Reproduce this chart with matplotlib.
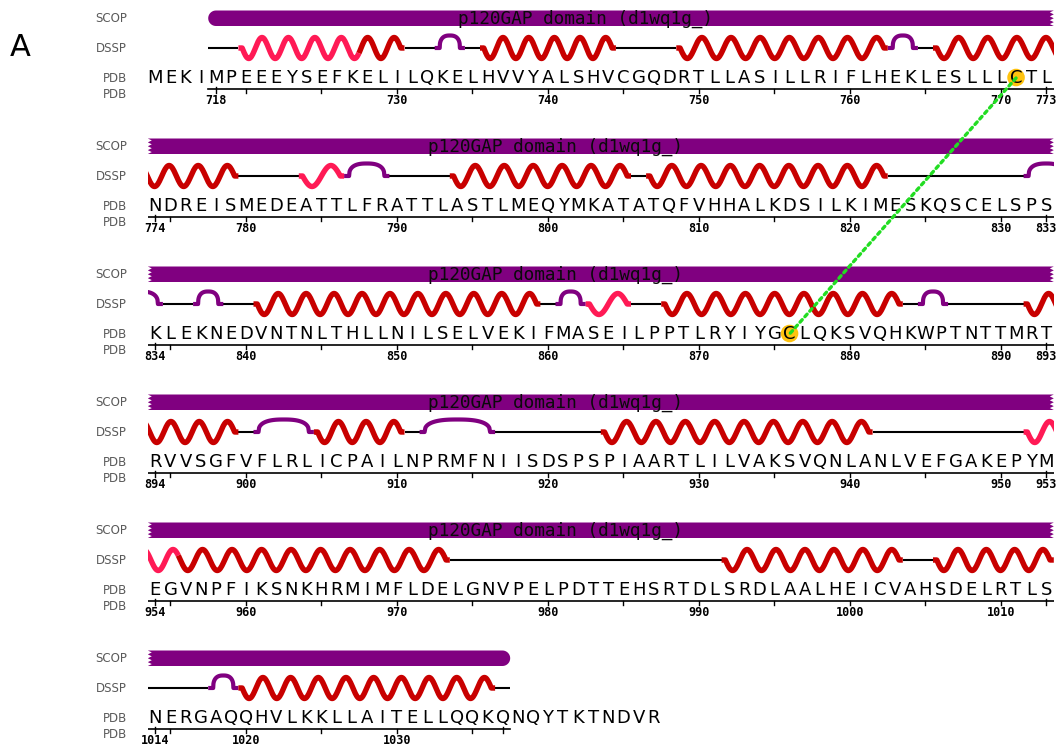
import numpy as np
import matplotlib
matplotlib.use("Agg")
import matplotlib.pyplot as plt
from matplotlib.patches import Polygon, ConnectionPatch
from matplotlib.transforms import blended_transform_factory
from itertools import groupby

# sequence laid out 60 residues per line
row_starts = [714, 774, 834, 894, 954, 1014]
sequence_rows = [
    "MEKIMPEEEYSEFKELILQKELHVVYALSHVCGQDRTLLASILLRIFLHEKLESLLLCTL",
    "NDREISMEDEATTLFRATTLASTLMEQYMKATATQFVHHALKDSILKIMESKQSCELSPS",
    "KLEKNEDVNTNLTHLLNILSELVEKIFMASEILPPTLRYIYGCLQKSVQHKWPTNTTMRT",
    "RVVSGFVFLRLICPAILNPRMFNIISDSPSPIAARTLILVAKSVQNLANLVEFGAKEPYM",
    "EGVNPFIKSNKHRMIMFLDELGNVPELPDTTEHSRTDLSRDLAALHEICVAHSDELRTLS",
    "NERGAQQHVLKKLLAITELLQQKQNQYTKTNDVR",
]
# DSSP per residue: H alpha helix, G 3-10 helix, T turn, - coil, . not in structure
dssp_rows = [
    "....--GGGGGGGGHHH--TT-HHHHHHHHH----HHHHHHHHHHHHHHTT-HHHHHHHH",
    "HHHHHH----GGGTTT----HHHHHHHHHHHH-HHHHHHHHHHHHHHHH---------TT",
    "T--TT--HHHHHHHHHHHHHHHHHHH-TTGGG--HHHHHHHHHHHHHHHH-TT-----HH",
    "HHHHHH-TTTTHHHHHH-TTTTT-------HHHHHHHHHHHHHHHHHH----------GG",
    "GGHHHHHHHHHHHHHHHHHH------------------HHHHHHHHHHHH--HHHHHHHH",
    "----TTHHHHHHHHHHHHHHHHH-..........",
]
tick_label_rows = [
    [718, 730, 740, 750, 760, 770, 773],
    [774, 780, 790, 800, 810, 820, 830, 833],
    [834, 840, 850, 860, 870, 880, 890, 893],
    [894, 900, 910, 920, 930, 940, 950, 953],
    [954, 960, 970, 980, 990, 1000, 1010],
    [1014, 1020, 1030],
]
domain_start, domain_end = 718, 1037
domain_name = "p120GAP domain (d1wq1g_)"
track_names = ["SCOP", "DSSP", "PDB", "PDB"]
linked_cys = (771, 876)
panel_label = "A"

W, H = 1063, 746
ROW_H = 128
X0, PER_ROW = 147.8, 60
PX = 15.1  # pixels per residue

# vertical positions inside a row (pixels from row top)
BAR_TOP, BAR_BOT = 10.5, 26.0
COIL_Y, AMP = 48.0, 10.5
SEQ_Y, AXIS_Y, NUM_Y = 78, 88.5, 100
TRACK_Y = [18, 48, 78, 94]
HELIX_PERIOD = 1.88  # residues per drawn wave

colors = {"H": "#c80000", "G": "#ff1a55", "T": "#800080", "-": "black"}
purple = "#800080"

seq, dssp = {}, {}
for start, s, d in zip(row_starts, sequence_rows, dssp_rows):
    for i, (aa, ss) in enumerate(zip(s, d)):
        seq[start + i] = aa
        dssp[start + i] = ss


def category(c):
    return {"H": "helix", "G": "helix", "T": "turn", "-": "coil"}.get(c)


runs = []
for cat, grp in groupby(sorted(dssp), key=lambda r: category(dssp[r])):
    grp = list(grp)
    if cat:
        runs.append((cat, grp[0], grp[-1]))


def draw_helix(ax, s, e, m=0.25):
    x0, x1 = s - 0.5 + m, e + 0.5 - m
    k = max(1, int(round((x1 - x0) / HELIX_PERIOD)))
    xw = np.linspace(x0, x1, 40 * k)
    yw = COIL_Y + AMP * np.sin(2 * np.pi * k * (xw - x0) / (x1 - x0))
    xs = np.concatenate([[s - 0.5], xw, [e + 0.5]])
    ys = np.concatenate([[COIL_Y], yw, [COIL_Y]])
    mids = (xs[:-1] + xs[1:]) / 2
    codes = [dssp[int(np.clip(np.floor(v + 0.5), s, e))] for v in mids]
    i = 0
    for code, grp in groupby(codes):
        n = len(list(grp))
        ax.plot(xs[i:i + n + 1], ys[i:i + n + 1], color=colors[code], lw=3.9,
                solid_capstyle="butt", solid_joinstyle="round", zorder=4)
        i += n


def draw_turn(ax, s, e, h=12.5, p=2.6):
    a, b = s - 0.5 + 0.33, e + 0.5 - 0.33
    u = np.linspace(-1, 1, 80)
    xa = (a + b) / 2 + u * (b - a) / 2
    ya = COIL_Y - h * (1 - np.abs(u) ** p) ** (1 / p)
    xs = np.concatenate([[s - 0.5], xa, [e + 0.5]])
    ys = np.concatenate([[COIL_Y], ya, [COIL_Y]])
    ax.plot(xs, ys, color=purple, lw=3.0, solid_capstyle="butt", zorder=3)


def bar_outline(lo, hi, round_left, round_right, depth=4.0):
    r = (BAR_BOT - BAR_TOP) / 2
    cy = (BAR_TOP + BAR_BOT) / 2
    pts = []
    if round_right:
        ph = np.linspace(-np.pi / 2, np.pi / 2, 20)
        pts += list(zip(hi - r / PX + r * np.cos(ph) / PX, cy + r * np.sin(ph)))
    else:
        yy = np.linspace(BAR_TOP, BAR_BOT, 9)
        pts += [(hi - (depth if i % 2 else 0) / PX, y) for i, y in enumerate(yy)]
    if round_left:
        ph = np.linspace(np.pi / 2, 3 * np.pi / 2, 20)
        pts += list(zip(lo + r / PX + r * np.cos(ph) / PX, cy + r * np.sin(ph)))
    else:
        yy = np.linspace(BAR_BOT, BAR_TOP, 9)
        pts += [(lo + (depth if i % 2 else 0) / PX, y) for i, y in enumerate(yy)]
    return pts


fig = plt.figure(figsize=(W / 100, H / 100), dpi=100)
fig.text(10 / W, 1 - 48 / H, panel_label, fontsize=22, ha="left", va="center",
         family="DejaVu Sans")

axes = []
for k, start in enumerate(row_starts):
    ax = fig.add_axes([X0 / W, 1 - (ROW_H * (k + 1)) / H, PER_ROW * PX / W, ROW_H / H])
    ax.set_xlim(start - 0.5, start + PER_ROW - 0.5)
    ax.set_ylim(ROW_H, 0)
    ax.axis("off")
    axes.append(ax)
    end = start + PER_ROW - 1

    # track names on the left
    tr = blended_transform_factory(fig.transFigure, ax.transData)
    for name, y in zip(track_names, TRACK_Y):
        ax.text(127 / W, y, name, transform=tr, ha="right", va="center",
                fontsize=8.5, color="#5a5a5a", family="DejaVu Sans")

    # SCOP domain bar
    lo = max(domain_start, start) - 0.5
    hi = min(domain_end, end) + 0.5
    ax.add_patch(Polygon(bar_outline(lo, hi, lo == domain_start - 0.5,
                                     hi == domain_end + 0.5),
                         closed=True, facecolor=purple, edgecolor="none", zorder=2))
    if domain_end >= end:
        ax.text((lo + hi) / 2 - 3, (BAR_TOP + BAR_BOT) / 2 + 0.5, domain_name,
                ha="center", va="center", fontsize=12.8, color="#0a0a0a",
                family="DejaVu Sans Mono", zorder=3)

    # DSSP track
    for cat, s, e in runs:
        if e < start - 3 or s > end + 3:
            continue
        if cat == "coil":
            ax.plot([s - 0.5, e + 0.5], [COIL_Y, COIL_Y], color="black", lw=1.5,
                    solid_capstyle="butt", zorder=2)
        elif cat == "turn":
            draw_turn(ax, s, e)
        else:
            draw_helix(ax, s, e)

    # sequence letters
    for r in range(start, start + len(sequence_rows[k])):
        ax.text(r, SEQ_Y, seq[r], ha="center", va="center", fontsize=13,
                family="DejaVu Sans", color="black", zorder=5)
    for c in linked_cys:
        if start <= c <= end:
            ax.scatter([c], [SEQ_Y - 0.5], s=160, color="#ffc30f", edgecolor="none",
                       zorder=4)

    # residue numbering axis
    a0 = max(domain_start, start)
    a1 = min(domain_end, end)
    ax.plot([a0 - 0.5, a1 + 0.5], [AXIS_Y, AXIS_Y], color="black", lw=1.2, zorder=2)
    ticks = [t for t in range(a0, a1 + 1) if t % 5 == 0]
    for t in ticks:
        ax.plot([t, t], [AXIS_Y, AXIS_Y + 4], color="black", lw=1.0)
    for t in (a0, a1):
        ax.plot([t, t], [AXIS_Y - 2, AXIS_Y + 4], color="black", lw=1.0)
    for t in tick_label_rows[k]:
        ax.text(t, NUM_Y, str(t), ha="center", va="center", fontsize=8.5,
                fontweight="bold", family="DejaVu Sans Mono")

# dotted link between the two cysteines
con = ConnectionPatch(xyA=(linked_cys[0], SEQ_Y), coordsA=axes[0].transData,
                      xyB=(linked_cys[1], SEQ_Y), coordsB=axes[2].transData,
                      color="#22dd22", lw=2.4, linestyle=(0, (1, 1.2)), zorder=10)
fig.add_artist(con)

fig.savefig("out.png", dpi=100)
